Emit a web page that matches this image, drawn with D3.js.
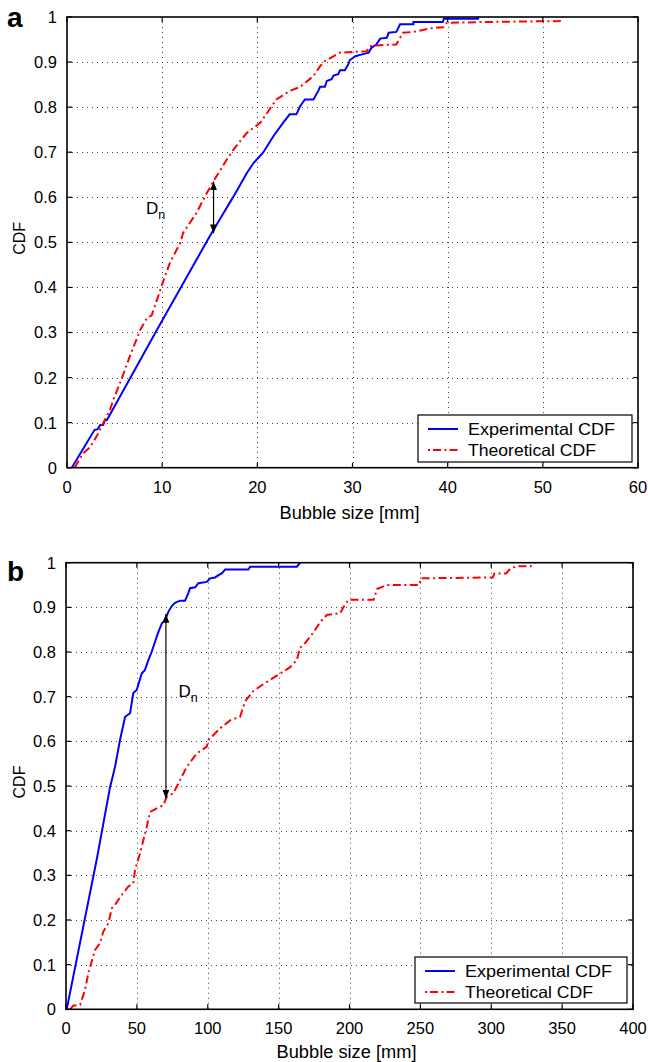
<!DOCTYPE html>
<html>
<head>
<meta charset="utf-8">
<script src="https://cdn.jsdelivr.net/npm/d3@7"></script>
<style>
  body { margin: 0; background: #fff; }
  svg { display: block; }
  text { font-family: "Liberation Sans", Arial, Helvetica, sans-serif; fill: #000; }
</style>
</head>
<body>
<svg id="fig" width="648" height="1062"></svg>
<script>
// ---- tick values and labels ----
const xTicksA = [0, 10, 20, 30, 40, 50, 60];
const xTicksB = [0, 50, 100, 150, 200, 250, 300, 350, 400];
const yTicks = [0, 0.1, 0.2, 0.3, 0.4, 0.5, 0.6, 0.7, 0.8, 0.9, 1];
const yTickLabels = ["0", "0.1", "0.2", "0.3", "0.4", "0.5", "0.6", "0.7", "0.8", "0.9", "1"];
const seriesNames = ["Experimental CDF", "Theoretical CDF"];
const xTitle = "Bubble size [mm]";
const yTitle = "CDF";

// ---- panel a: experimental CDF ----
const expA_x = [0.5, 2.9, 3.2, 3.5, 3.8, 4.0, 4.2, 9.4, 14.85, 15.4, 16.25, 17.5, 18.9, 19.6, 20.6, 21.7, 22.7, 23.4, 24.1,
  24.5, 25.0, 25.9, 26.4, 26.6, 27.1, 27.3, 27.8, 28.0, 28.5, 28.7, 29.2, 29.6, 29.7, 30.3, 31.0, 31.7, 32.0, 32.5,
  32.9, 33.6, 33.8, 34.6, 35.0, 36.4, 36.4, 39.5, 39.6, 43.2, 43.2];
const expA_y = [0, 0.084, 0.085, 0.095, 0.095, 0.106, 0.106, 0.304, 0.508, 0.528, 0.558, 0.602, 0.654, 0.676, 0.699, 0.736, 0.765, 0.784, 0.784,
  0.802, 0.817, 0.817, 0.836, 0.845, 0.845, 0.858, 0.862, 0.870, 0.873, 0.882, 0.882, 0.897, 0.904, 0.913, 0.917, 0.921, 0.932, 0.939,
  0.952, 0.954, 0.965, 0.967, 0.984, 0.984, 0.989, 0.989, 0.996, 0.996, 1.0];

// ---- panel a: theoretical CDF ----
const theoA_x = [0.8, 1.7, 2.4, 3.1, 3.8, 4.5, 5.0, 5.7, 6.6, 7.7, 8.4, 8.9, 9.4, 10.1, 10.8, 11.9, 12.2, 13.6, 14.5, 15.4,
  16.8, 17.5, 18.9, 20.3, 22.0, 23.4, 24.5, 25.9, 26.6, 27.1, 28.7, 31.5, 31.8, 32.5, 34.6, 35.3, 36.4, 38.5, 39.5, 39.9,
  44.1, 51.8, 52.1];
const theoA_y = [0, 0.032, 0.045, 0.069, 0.099, 0.128, 0.158, 0.195, 0.247, 0.306, 0.332, 0.338, 0.369, 0.413, 0.454, 0.499, 0.521, 0.565, 0.602, 0.636,
  0.684, 0.706, 0.743, 0.765, 0.817, 0.836, 0.845, 0.869, 0.891, 0.902, 0.921, 0.924, 0.935, 0.937, 0.939, 0.965, 0.967, 0.976, 0.977, 0.987,
  0.989, 0.991, 1.0];

// ---- panel b: experimental CDF ----
const expB_x = [0.5, 21.7, 31.1, 32.3, 34.6, 38.1, 41.7, 45.2, 47.5, 49.9, 53.4, 55.7, 58.1, 60.5, 62.8, 65.2, 67.6, 69.9,
  72.2, 74.6, 76.9, 80.5, 84.0, 86.3, 87.5, 91.1, 93.4, 99.3, 101.7, 105.2, 107.6, 109.9, 112.3, 128.7, 129.9, 162.9, 165.2];
const expB_y = [0, 0.336, 0.498, 0.513, 0.543, 0.603, 0.655, 0.663, 0.708, 0.715, 0.752, 0.760, 0.782, 0.801, 0.823, 0.845, 0.864, 0.872,
  0.890, 0.903, 0.910, 0.915, 0.915, 0.932, 0.943, 0.945, 0.954, 0.957, 0.965, 0.967, 0.972, 0.976, 0.985, 0.985, 0.991, 0.991, 1.0];

// ---- panel b: theoretical CDF ----
const theoB_x = [3, 5, 9.9, 13.4, 15.7, 18.1, 20.5, 24.0, 26.3, 29.9, 32.3, 34.6, 39.3, 44.0, 47.5, 48.7, 52.2, 57.0, 59.3,
  64.0, 68.7, 71.1, 75.8, 79.3, 85.2, 92.3, 99.3, 100.5, 108.7, 115.8, 122.8, 126.4, 132.3, 139.3, 148.7, 158.1, 162.8,
  165.2, 168.7, 174.6, 179.3, 184.0, 193.4, 195.8, 199.3, 217.0, 219.4, 226.4, 249.2, 250.4, 301.0, 302.3, 310.5, 313.6,
  317.9, 327.6, 331.0];
const theoB_y = [0, 0.008, 0.010, 0.043, 0.080, 0.107, 0.133, 0.148, 0.174, 0.193, 0.226, 0.234, 0.256, 0.275, 0.282, 0.312, 0.349, 0.409, 0.442,
  0.450, 0.457, 0.476, 0.484, 0.506, 0.543, 0.573, 0.588, 0.603, 0.629, 0.647, 0.655, 0.690, 0.713, 0.728, 0.747, 0.766, 0.782,
  0.810, 0.820, 0.844, 0.867, 0.883, 0.887, 0.901, 0.917, 0.917, 0.941, 0.950, 0.950, 0.965, 0.967, 0.976, 0.976, 0.987,
  0.992, 0.992, 1.0];

// ---- D_n markers: [x, lower CDF, upper CDF] ----
const dnA = [15.4, 0.52, 0.635];
const dnB = [70.5, 0.472, 0.885];

const svg = d3.select("#fig");
const FONT_TICK = 16.5;

// arrowhead marker for the D_n distance
const defs = svg.append("defs");
defs.append("marker")
  .attr("id", "arrowHead")
  .attr("viewBox", "0 0 10 8")
  .attr("refX", 10).attr("refY", 4)
  .attr("markerUnits", "userSpaceOnUse")
  .attr("markerWidth", 9).attr("markerHeight", 7)
  .attr("orient", "auto-start-reverse")
  .append("path").attr("d", "M0,0 L10,4 L0,8 Z").attr("fill", "#000");

function drawPanel(cfg) {
  const { id, left, right, top, bottom, xMax, xTicks, exp, theo, dn, dnLabel, tag, tagPos, legend, xLabelY } = cfg;
  const x = d3.scaleLinear().domain([0, xMax]).range([left, right]);
  const y = d3.scaleLinear().domain([0, 1]).range([bottom, top]);
  const g = svg.append("g");

  // clip region for the curves
  defs.append("clipPath").attr("id", "clip-" + id)
    .append("rect").attr("x", left).attr("y", top).attr("width", right - left).attr("height", bottom - top);

  // dotted grid
  const grid = g.append("g").attr("stroke", "#444").attr("stroke-width", 1).attr("stroke-dasharray", "1,4");
  grid.selectAll("line.v").data(xTicks.slice(1, -1)).join("line")
    .attr("x1", d => Math.round(x(d)) + 0.5).attr("x2", d => Math.round(x(d)) + 0.5)
    .attr("y1", top).attr("y2", bottom);
  grid.selectAll("line.h").data(yTicks.slice(1, -1)).join("line")
    .attr("y1", d => Math.round(y(d)) + 0.5).attr("y2", d => Math.round(y(d)) + 0.5)
    .attr("x1", left).attr("x2", right);

  // curves
  const line = d3.line().x(d => x(d[0])).y(d => y(d[1]));
  const curves = g.append("g").attr("clip-path", `url(#clip-${id})`);
  curves.append("path")
    .datum(d3.zip(exp[0], exp[1]))
    .attr("d", line).attr("fill", "none")
    .attr("stroke", "#0000ff").attr("stroke-width", 2).attr("stroke-linejoin", "miter");
  curves.append("path")
    .datum(d3.zip(theo[0], theo[1]))
    .attr("d", line).attr("fill", "none")
    .attr("stroke", "#ff0000").attr("stroke-width", 2)
    .attr("stroke-dasharray", "8,3.5,2,3.5");

  // D_n arrow
  g.append("line")
    .attr("x1", x(dn[0])).attr("x2", x(dn[0]))
    .attr("y1", y(dn[1])).attr("y2", y(dn[2]))
    .attr("stroke", "#000").attr("stroke-width", 1.2)
    .attr("marker-start", "url(#arrowHead)").attr("marker-end", "url(#arrowHead)");
  const dt = g.append("text").attr("x", x(dnLabel[0])).attr("y", y(dnLabel[1])).attr("font-size", 17);
  dt.append("tspan").text("D");
  dt.append("tspan").attr("font-size", 12.5).attr("dy", 5).text("n");

  // frame
  g.append("rect").attr("x", left).attr("y", top).attr("width", right - left).attr("height", bottom - top)
    .attr("fill", "none").attr("stroke", "#000").attr("stroke-width", 1.6);

  // inward ticks on all four sides
  const tl = 5;
  const ticks = g.append("g").attr("stroke", "#000").attr("stroke-width", 1.2);
  xTicks.forEach(t => {
    ticks.append("line").attr("x1", x(t)).attr("x2", x(t)).attr("y1", bottom).attr("y2", bottom - tl);
    ticks.append("line").attr("x1", x(t)).attr("x2", x(t)).attr("y1", top).attr("y2", top + tl);
  });
  yTicks.forEach(t => {
    ticks.append("line").attr("y1", y(t)).attr("y2", y(t)).attr("x1", left).attr("x2", left + tl);
    ticks.append("line").attr("y1", y(t)).attr("y2", y(t)).attr("x1", right).attr("x2", right - tl);
  });

  // tick labels
  g.selectAll("text.xt").data(xTicks).join("text")
    .attr("x", d => x(d)).attr("y", bottom + 25)
    .attr("text-anchor", "middle").attr("font-size", FONT_TICK)
    .text(d => String(d));
  g.selectAll("text.yt").data(yTicks).join("text")
    .attr("x", left - 10).attr("y", d => y(d) + 6)
    .attr("text-anchor", "end").attr("font-size", FONT_TICK)
    .text((d, i) => yTickLabels[i]);

  // axis titles
  g.append("text")
    .attr("x", (left + right) / 2 - 3).attr("y", xLabelY)
    .attr("text-anchor", "middle").attr("font-size", 17.5)
    .attr("textLength", 140).attr("lengthAdjust", "spacingAndGlyphs")
    .text(xTitle);
  g.append("text")
    .attr("transform", `translate(25,${(top + bottom) / 2 - 4}) rotate(-90)`)
    .attr("text-anchor", "middle").attr("font-size", 16)
    .text(yTitle);

  // panel tag
  g.append("text").attr("x", tagPos[0]).attr("y", tagPos[1])
    .attr("font-size", 28).attr("font-weight", "bold").text(tag);

  // legend
  const lg = g.append("g");
  lg.append("rect").attr("x", legend.x).attr("y", legend.y).attr("width", legend.w).attr("height", legend.h)
    .attr("fill", "#fff").attr("stroke", "#000").attr("stroke-width", 1.2);
  const rows = [
    { name: seriesNames[0], color: "#0000ff", dash: null, len: 147 },
    { name: seriesNames[1], color: "#ff0000", dash: "2,3,8,3.5", len: 128 }
  ];
  rows.forEach((r, i) => {
    const cy = legend.y + 14 + i * 21;
    lg.append("line")
      .attr("x1", legend.x + 10).attr("x2", legend.x + 40)
      .attr("y1", cy).attr("y2", cy)
      .attr("stroke", r.color).attr("stroke-width", 2)
      .attr("stroke-dasharray", r.dash);
    lg.append("text")
      .attr("x", legend.x + 50).attr("y", cy + 6)
      .attr("font-size", 16.5)
      .attr("textLength", r.len).attr("lengthAdjust", "spacingAndGlyphs")
      .text(r.name);
  });
}

drawPanel({
  id: "a", left: 67, right: 638, top: 17, bottom: 467.7,
  xMax: 60, xTicks: xTicksA,
  exp: [expA_x, expA_y], theo: [theoA_x, theoA_y],
  dn: dnA, dnLabel: [8.3, 0.562],
  tag: "a", tagPos: [7, 27],
  legend: { x: 418, y: 415, w: 214, h: 47 },
  xLabelY: 519
});

drawPanel({
  id: "b", left: 66, right: 633, top: 562.7, bottom: 1009.3,
  xMax: 400, xTicks: xTicksB,
  exp: [expB_x, expB_y], theo: [theoB_x, theoB_y],
  dn: dnB, dnLabel: [79.3, 0.699],
  tag: "b", tagPos: [7, 581],
  legend: { x: 415, y: 957, w: 212, h: 46 },
  xLabelY: 1058
});
</script>
</body>
</html>
